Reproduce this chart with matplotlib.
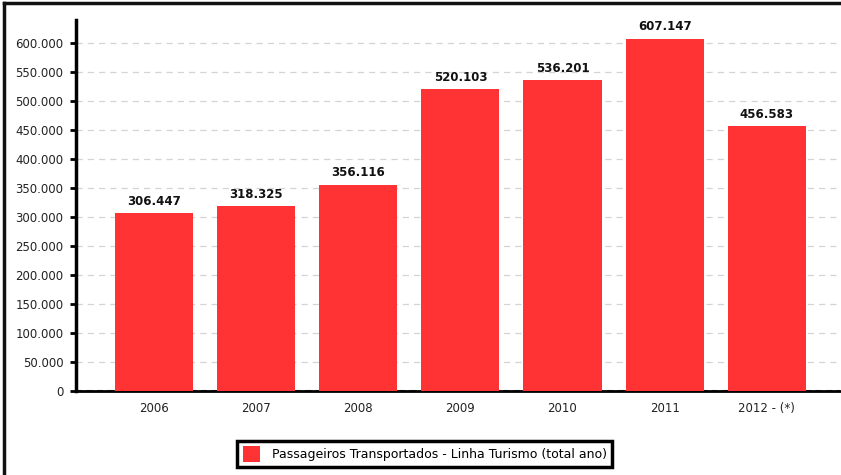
import matplotlib.pyplot as plt
from matplotlib.lines import Line2D

# dados
anos = ['2006', '2007', '2008', '2009', '2010', '2011', '2012 - (*)']
passageiros = [306447, 318325, 356116, 520103, 536201, 607147, 456583]
y_ticks = list(range(0, 650000, 50000))

def fmt(v):
    return '{:,}'.format(v).replace(',', '.')

fig = plt.figure(figsize=(8.41, 4.75), dpi=100)
ax = fig.add_axes([0.0904, 0.1768, 0.9086, 0.7812])

x = list(range(len(anos)))
ax.bar(x, passageiros, width=0.765, color='#ff3333', zorder=3,
       label='Passageiros Transportados - Linha Turismo (total ano)')

for xi, v in zip(x, passageiros):
    ax.annotate(fmt(v), (xi, v), xytext=(0, 4), textcoords='offset points',
                ha='center', va='bottom', fontsize=8.5, fontweight='bold', color='#111111')

ax.set_xlim(-0.765, 6.72)
ax.set_ylim(0, 640000)
ax.set_yticks(y_ticks)
ax.set_yticklabels([fmt(t) for t in y_ticks], fontsize=8.5, color='#222222')
ax.set_xticks(x)
ax.set_xticklabels(anos, fontsize=8.5, color='#222222')
ax.tick_params(axis='x', length=0, pad=8)
ax.tick_params(axis='y', length=4, width=2, direction='out', pad=5)

ax.grid(axis='y', linestyle=(0, (5, 4)), color='#d4d4d4', linewidth=0.9, zorder=0)
ax.axhline(0, color='#555555', linestyle=(0, (3, 2)), linewidth=1.5, zorder=2)

for s in ['top', 'right']:
    ax.spines[s].set_visible(False)
ax.spines['left'].set_linewidth(2.5)
ax.spines['bottom'].set_linewidth(2)
ax.spines['left'].set_color('black')
ax.spines['bottom'].set_color('black')

leg = fig.legend(loc='center', bbox_to_anchor=(0.505, 0.044), fontsize=9,
                 fancybox=False, edgecolor='black', handlelength=1.4, handleheight=1.5,
                 handletextpad=0.9, borderpad=0.45, framealpha=1)
leg.get_frame().set_linewidth(2.5)

# borda da figura (apenas topo e esquerda)
fig.add_artist(Line2D([0.005, 0.005], [0, 0.993], transform=fig.transFigure, color='#111111', linewidth=2.5))
fig.add_artist(Line2D([0.005, 1], [0.993, 0.993], transform=fig.transFigure, color='#111111', linewidth=2.5))

plt.savefig('out.png', dpi=100)
